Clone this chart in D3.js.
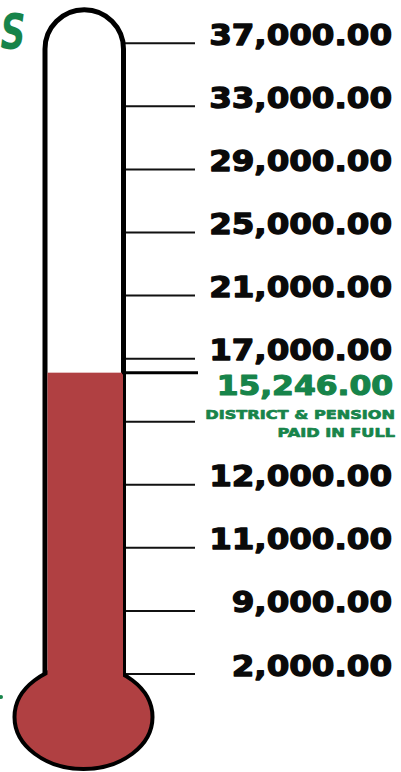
<!DOCTYPE html>
<html>
<head>
<meta charset="utf-8">
<script src="https://cdn.jsdelivr.net/npm/d3@7"></script>
<style>
  html, body { margin: 0; padding: 0; background: #ffffff; }
  svg { display: block; }
</style>
</head>
<body>
<svg id="chart" width="401" height="772"></svg>
<script>
// ---- data ----
const tickLabels = ["37,000.00", "33,000.00", "29,000.00", "25,000.00", "21,000.00", "17,000.00", "", "12,000.00", "11,000.00", "9,000.00", "2,000.00"];
const milestoneIndex = 6;
const milestoneLines = ["DISTRICT & PENSION", "PAID IN FULL"];
const goal = 37000;
const raised = 15246;
const raisedLabel = "15,246.00";
const titleFragment = "S";

// ---- styles / layout ----
const RED = "#b04042";
const GREEN = "#17844a";
const svg = d3.select("#chart");

const y = d3.scalePoint().domain(d3.range(tickLabels.length)).range([43.3, 674]);
const fillScale = d3.scaleLinear().domain([0, goal]).range([603.5, y(0)]);

const tubeL = 45, tubeR = 123.5, arcCY = 49, tubeBottom = 678;
const r = (tubeR - tubeL) / 2, cx = (tubeL + tubeR) / 2;

// title fragment (cropped)
svg.append("text")
  .attr("x", 0.5).attr("y", 49)
  .attr("font-family", "DejaVu Sans")
  .attr("font-weight", "bold")
  .attr("font-style", "italic")
  .attr("font-size", 50)
  .attr("fill", GREEN)
  .attr("textLength", 25).attr("lengthAdjust", "spacingAndGlyphs")
  .text(titleFragment);

svg.append("circle").attr("cx", 1).attr("cy", 697).attr("r", 2).attr("fill", GREEN);

// tick lines
svg.append("g").selectAll("line").data(d3.range(tickLabels.length)).join("line")
  .attr("x1", 125).attr("x2", 195)
  .attr("y1", d => y(d)).attr("y2", d => y(d))
  .attr("stroke", "#111").attr("stroke-width", 2);

// tube outline
const tubePath = d3.path();
tubePath.moveTo(tubeL, tubeBottom);
tubePath.lineTo(tubeL, arcCY);
tubePath.arc(cx, arcCY, r, Math.PI, 0);
tubePath.lineTo(tubeR, tubeBottom);
svg.append("path").attr("d", tubePath.toString())
  .attr("fill", "#fff").attr("stroke", "#000").attr("stroke-width", 5);

// bulb
svg.append("ellipse")
  .attr("cx", 83.5).attr("cy", 717).attr("rx", 69).attr("ry", 52)
  .attr("fill", RED).attr("stroke", "#000").attr("stroke-width", 4);

// mercury column
const fillTop = fillScale(raised);
svg.append("rect")
  .attr("x", 47.5).attr("y", fillTop)
  .attr("width", 123 - 47.5).attr("height", 700 - fillTop)
  .attr("fill", RED);

// current level line
svg.append("line")
  .attr("x1", 122).attr("x2", 198)
  .attr("y1", fillTop).attr("y2", fillTop)
  .attr("stroke", "#000").attr("stroke-width", 3);

// tick labels
function stretched(sel, factor) {
  sel.each(function () {
    const w = this.getComputedTextLength();
    d3.select(this).attr("textLength", w * factor).attr("lengthAdjust", "spacingAndGlyphs");
  });
}
svg.append("g").selectAll("text")
  .data(tickLabels.map((t, i) => ({ t, i })).filter(d => d.t !== ""))
  .join("text")
  .attr("x", 392).attr("y", d => y(d.i) + 1.5)
  .attr("text-anchor", "end")
  .attr("font-family", "DejaVu Sans")
  .attr("font-weight", "bold")
  .attr("font-size", 29)
  .attr("fill", "#0a0a0a")
  .attr("stroke", "#0a0a0a").attr("stroke-width", 1.3).attr("stroke-linejoin", "round")
  .text(d => d.t)
  .call(stretched, 1.12);

// raised amount
svg.append("text")
  .attr("x", 393).attr("y", fillTop + 22.3)
  .attr("text-anchor", "end")
  .attr("font-family", "DejaVu Sans")
  .attr("font-weight", "bold")
  .attr("font-size", 27)
  .attr("fill", GREEN)
  .attr("stroke", GREEN).attr("stroke-width", 1.2).attr("stroke-linejoin", "round")
  .text(raisedLabel)
  .call(stretched, 1.16);

// milestone label
const mY = y(milestoneIndex);
svg.append("g").selectAll("text").data(milestoneLines).join("text")
  .attr("x", 395).attr("y", (d, i) => mY - 3 + i * 18)
  .attr("text-anchor", "end")
  .attr("font-family", "DejaVu Sans")
  .attr("font-weight", "bold")
  .attr("font-size", 13)
  .attr("fill", GREEN)
  .attr("stroke", GREEN).attr("stroke-width", 0.7).attr("stroke-linejoin", "round")
  .text(d => d)
  .call(stretched, 1.24);
</script>
</body>
</html>
